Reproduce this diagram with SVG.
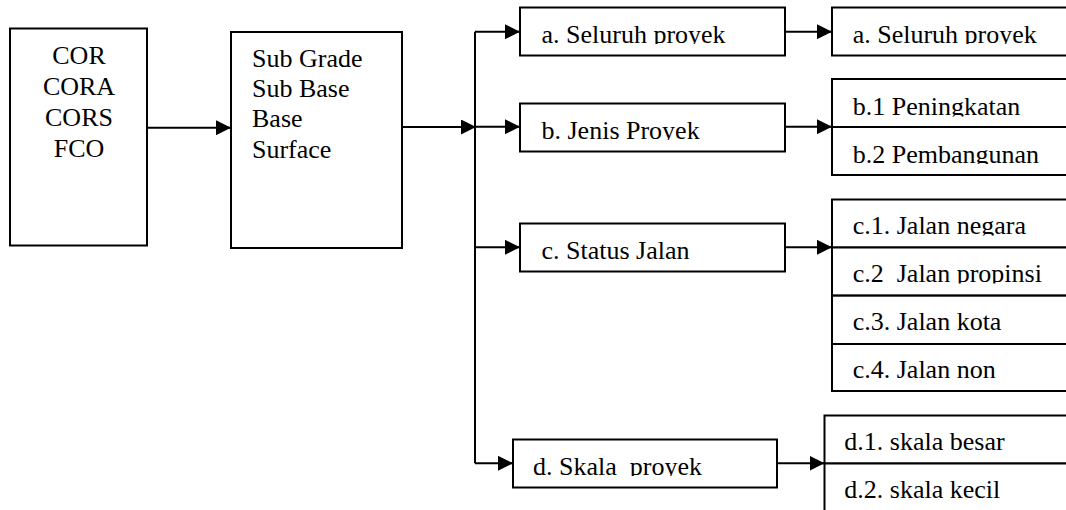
<svg xmlns="http://www.w3.org/2000/svg" width="1066" height="510" viewBox="0 0 1066 510">
<style>
rect.b{fill:#fff;stroke:#000;stroke-width:2}
text.t{font-family:'Liberation Serif','Times New Roman',serif;font-size:26px;fill:#000}
text.c{text-anchor:middle}
#connectors path{fill:none;stroke:#000;stroke-width:2}
</style>
<defs>
<marker id="ah" markerUnits="userSpaceOnUse" markerWidth="15" markerHeight="15" refX="15" refY="7.5" orient="auto"><path d="M0,0 L15,7.5 L0,15 z" fill="#000"/></marker>
<clipPath id="k44"><rect x="0" y="0" width="1066" height="44"/></clipPath>
<clipPath id="k140"><rect x="0" y="0" width="1066" height="140"/></clipPath>
<clipPath id="k476"><rect x="0" y="0" width="1066" height="476"/></clipPath>
<clipPath id="k116"><rect x="0" y="0" width="1066" height="116.5"/></clipPath>
<clipPath id="k164"><rect x="0" y="0" width="1066" height="164"/></clipPath>
<clipPath id="k235"><rect x="0" y="0" width="1066" height="235.5"/></clipPath>
<clipPath id="k283"><rect x="0" y="0" width="1066" height="283.5"/></clipPath>
</defs>
<g id="n-metode">
<rect class="b" x="10" y="28.5" width="137" height="217"/>
<text class="t c" x="79" y="64">COR</text>
<text class="t c" x="79" y="95">CORA</text>
<text class="t c" x="79" y="126">CORS</text>
<text class="t c" x="79" y="157">FCO</text>
</g>
<g id="n-lapis">
<rect class="b" x="231" y="32" width="171" height="216"/>
<text class="t" x="252" y="67">Sub Grade</text>
<text class="t" x="252" y="97">Sub Base</text>
<text class="t" x="252" y="127">Base</text>
<text class="t" x="252" y="158">Surface</text>
</g>
<g id="n-a">
<rect class="b" x="520" y="7.5" width="265" height="48"/>
<text class="t" x="541.5" y="42.7" clip-path="url(#k44)">a. Seluruh proyek</text>
</g>
<g id="n-b">
<rect class="b" x="520" y="103.5" width="265" height="48"/>
<text class="t" x="541.5" y="138.7" clip-path="url(#k140)">b. Jenis Proyek</text>
</g>
<g id="n-c">
<rect class="b" x="520" y="223.5" width="265" height="48"/>
<text class="t" x="541.5" y="259">c. Status Jalan</text>
</g>
<g id="n-d">
<rect class="b" x="513" y="439.5" width="264" height="48"/>
<text class="t" x="533" y="475" clip-path="url(#k476)" xml:space="preserve">d. Skala  proyek</text>
</g>
<g id="n-a2">
<rect class="b" x="832" y="7.5" width="240" height="48"/>
<text class="t" x="852.7" y="42.7" clip-path="url(#k44)">a. Seluruh proyek</text>
</g>
<g id="n-b2">
<rect class="b" x="832" y="79" width="240" height="48"/>
<text class="t" x="852.7" y="115" clip-path="url(#k116)">b.1 Peningkatan</text>
<rect class="b" x="832" y="127" width="240" height="48"/>
<text class="t" x="852.7" y="162.7" clip-path="url(#k164)">b.2 Pembangunan</text>
</g>
<g id="n-c2">
<rect class="b" x="832" y="199.5" width="240" height="48"/>
<text class="t" x="852.7" y="234.3" clip-path="url(#k235)">c.1. Jalan negara</text>
<rect class="b" x="832" y="247.5" width="240" height="48"/>
<text class="t" x="852.7" y="282.3" clip-path="url(#k283)" xml:space="preserve">c.2  Jalan propinsi</text>
<rect class="b" x="832" y="295.7" width="240" height="48.3"/>
<text class="t" x="852.7" y="330">c.3. Jalan kota</text>
<rect class="b" x="832" y="344" width="240" height="47"/>
<text class="t" x="852.7" y="378.3">c.4. Jalan non</text>
</g>
<g id="n-d2">
<rect class="b" x="824.5" y="415.5" width="250" height="48"/>
<text class="t" x="844.3" y="450">d.1. skala besar</text>
<rect class="b" x="824.5" y="463.5" width="250" height="60"/>
<text class="t" x="844.3" y="498.3">d.2. skala kecil</text>
</g>
<g id="connectors">
<path d="M147,127.7 H231" marker-end="url(#ah)"/>
<path d="M402,127 H476" marker-end="url(#ah)"/>
<path d="M475,31.7 V463.3"/>
<path d="M475,31.7 H520" marker-end="url(#ah)"/>
<path d="M475,126.7 H520" marker-end="url(#ah)"/>
<path d="M475,247.3 H520" marker-end="url(#ah)"/>
<path d="M475,463.3 H513" marker-end="url(#ah)"/>
<path d="M785,31.7 H832" marker-end="url(#ah)"/>
<path d="M785,126.7 H832" marker-end="url(#ah)"/>
<path d="M785,247.3 H832" marker-end="url(#ah)"/>
<path d="M777,463.3 H824.5" marker-end="url(#ah)"/>
</g>
</svg>
